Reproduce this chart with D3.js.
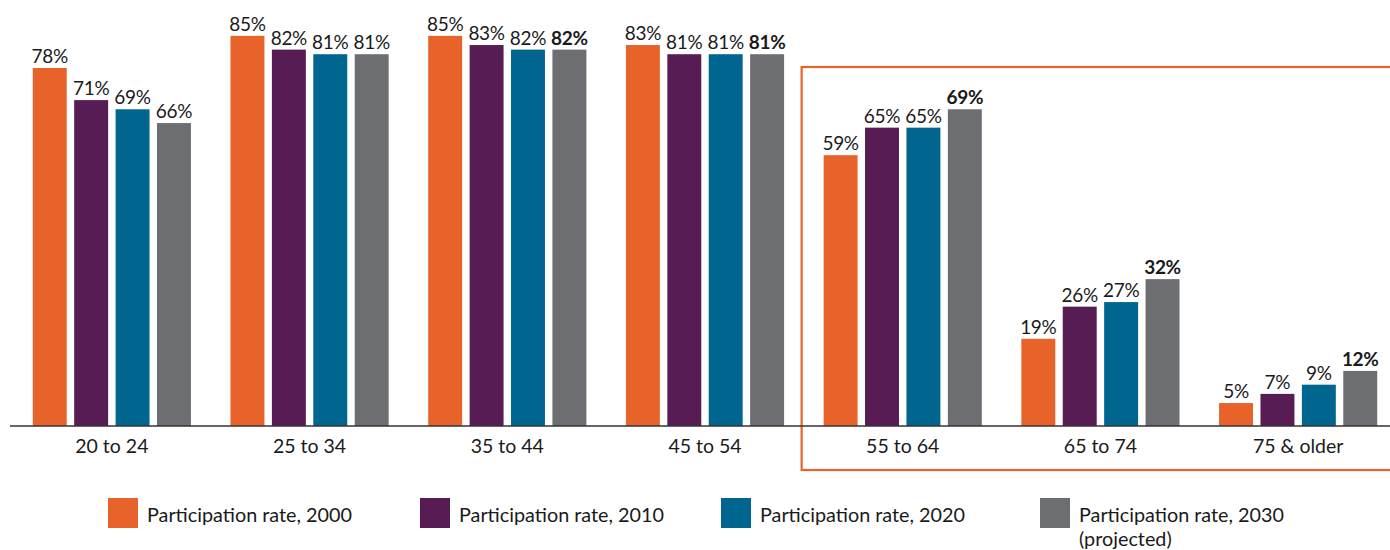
<!DOCTYPE html>
<html>
<head>
<meta charset="utf-8">
<script src="https://cdn.jsdelivr.net/npm/d3@7"></script>
<style>
  body { margin: 0; background: #fff; }
  svg { display: block; font-family: Lato, "Open Sans", sans-serif; }
</style>
</head>
<body>
<svg id="chart" width="1390" height="550"></svg>
<script>
// age groups
var categories = ["20 to 24", "25 to 34", "35 to 44", "45 to 54", "55 to 64", "65 to 74", "75 & older"];
var seriesNames = ["Participation rate, 2000", "Participation rate, 2010", "Participation rate, 2020", "Participation rate, 2030"];
var rate2000 = [78, 85, 85, 83, 59, 19, 5];
var rate2010 = [71, 82, 83, 81, 65, 26, 7];
var rate2020 = [69, 81, 82, 81, 65, 27, 9];
var rate2030 = [66, 81, 82, 81, 69, 32, 12];
// which 2030 labels are bold
var bold2030 = [false, false, true, true, true, true, true];
var colors = ["#e8632a", "#561c53", "#00668f", "#6d6e71"];
var highlighted = ["55 to 64", "65 to 74", "75 & older"];

var series = [rate2000, rate2010, rate2020, rate2030];

var svg = d3.select("#chart");
var baseY = 426;

var x0 = d3.scaleBand().domain(categories).range([13, 1397]).paddingInner(0.2).paddingOuter(0.1);
var x1 = d3.scaleBand().domain(d3.range(4)).range([0, x0.bandwidth()]).paddingInner(0.18);
var y = d3.scaleLinear().domain([0, 100]).range([baseY, baseY - 459]);

// highlight box around older groups
var hx = x0(highlighted[0]) - 22;
svg.append("rect")
  .attr("x", hx).attr("y", 67)
  .attr("width", 1400 - hx).attr("height", 403)
  .attr("fill", "none").attr("stroke", "#e8632a").attr("stroke-width", 2.2);

var g = svg.append("g");
var groups = g.selectAll("g.grp")
  .data(categories)
  .enter().append("g")
  .attr("class", "grp")
  .attr("transform", function(d) { return "translate(" + x0(d) + ",0)"; });

groups.selectAll("rect")
  .data(function(d, i) { return series.map(function(s, k) { return {k: k, v: s[i], i: i}; }); })
  .enter().append("rect")
  .attr("x", function(d) { return x1(d.k); })
  .attr("y", function(d) { return y(d.v); })
  .attr("width", x1.bandwidth())
  .attr("height", function(d) { return baseY - y(d.v); })
  .attr("fill", function(d) { return colors[d.k]; });

groups.selectAll("text")
  .data(function(d, i) { return series.map(function(s, k) { return {k: k, v: s[i], i: i}; }); })
  .enter().append("text")
  .attr("x", function(d) { return x1(d.k) + x1.bandwidth() / 2; })
  .attr("y", function(d) { return y(d.v) - 5; })
  .attr("text-anchor", "middle")
  .attr("font-size", 19)
  .attr("letter-spacing", -0.3)
  .attr("fill", "#1a1a1a")
  .attr("font-weight", function(d) { return (d.k == 3 && bold2030[d.i]) ? "bold" : "normal"; })
  .text(function(d) { return d.v + "%"; });

// axis
var axis = svg.append("g")
  .attr("transform", "translate(0," + baseY + ")")
  .call(d3.axisBottom(x0).tickSize(0).tickPadding(13));
axis.select(".domain").attr("d", "M10,0H1390").attr("stroke", "#333").attr("stroke-width", 1.5);
axis.selectAll("text").attr("font-size", 19.5).attr("fill", "#1a1a1a").attr("font-family", "Lato, sans-serif");

// legend
var legendX = [108, 420, 721, 1040];
var legend = svg.append("g").attr("transform", "translate(0,498)");
seriesNames.forEach(function(name, k) {
  var lg = legend.append("g").attr("transform", "translate(" + legendX[k] + ",0)");
  lg.append("rect").attr("width", 30).attr("height", 30).attr("fill", colors[k]);
  var t = lg.append("text").attr("x", 39).attr("y", 24).attr("font-size", 19.8).attr("fill", "#1a1a1a");
  t.append("tspan").text(name);
  if (k == 3) {
    t.append("tspan").attr("x", 39).attr("dy", 24).text("(projected)");
  }
});
</script>
</body>
</html>
